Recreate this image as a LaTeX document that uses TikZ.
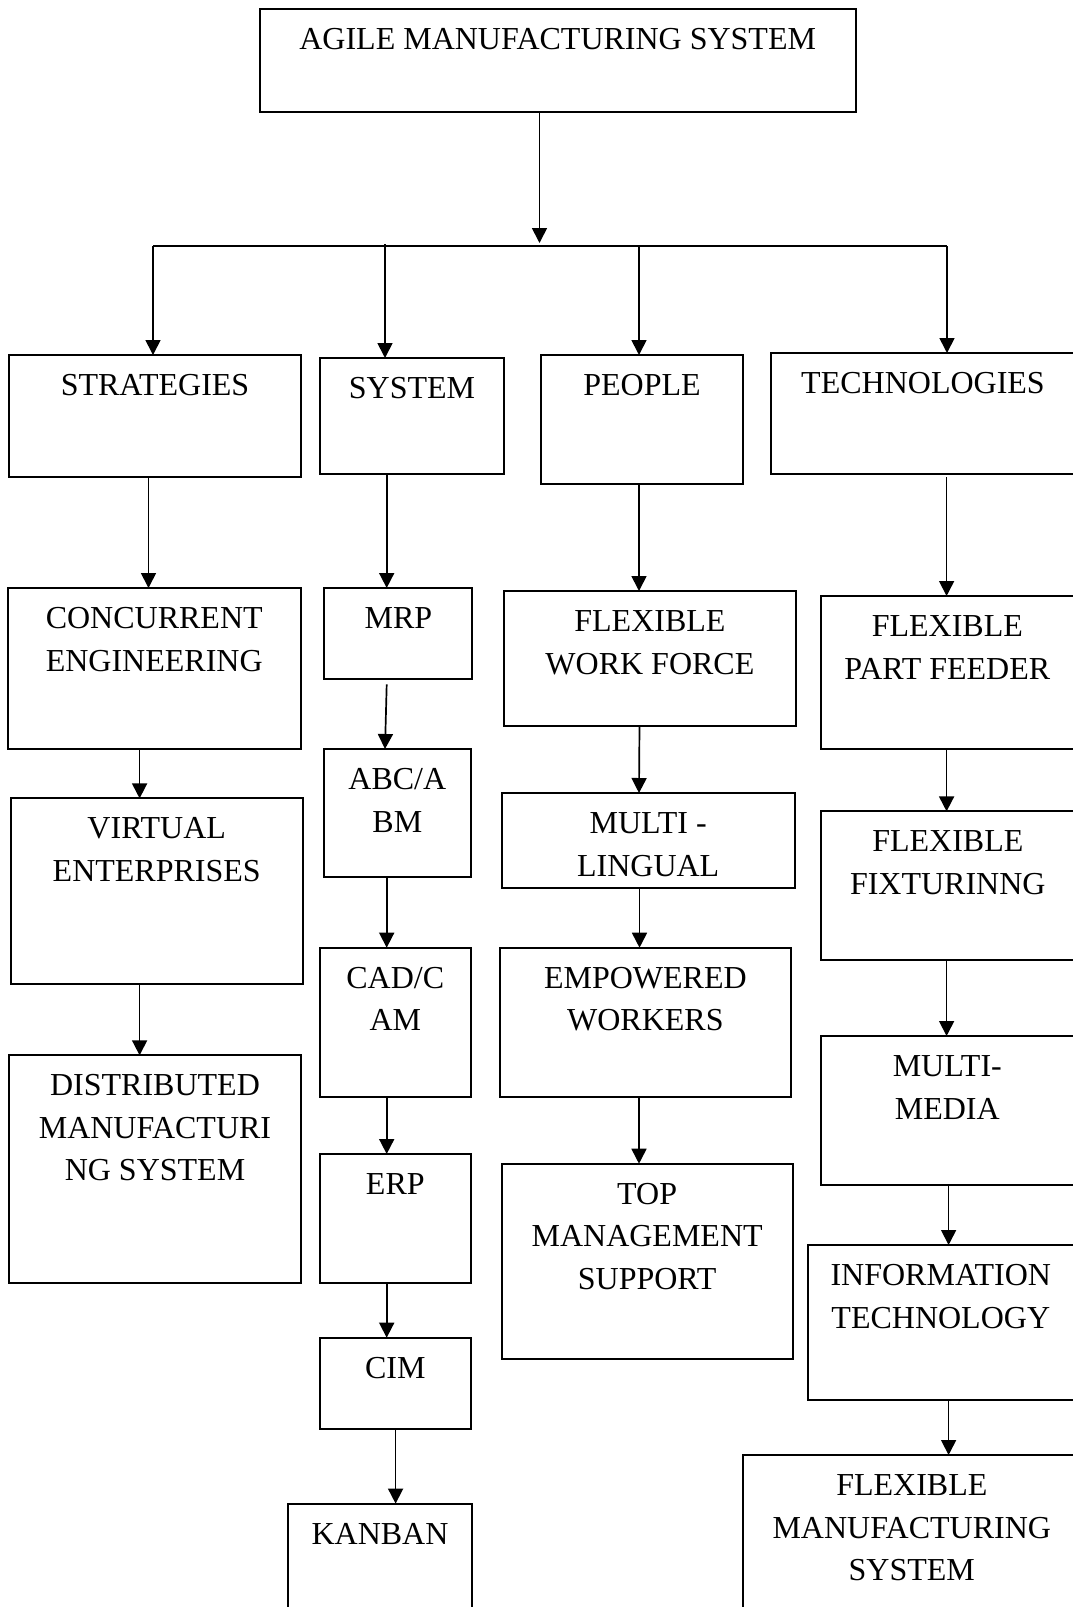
\documentclass[tikz,border=0pt]{standalone}
\usepackage{fontspec}
\setmainfont{Liberation Serif}
\usetikzlibrary{arrows.meta,calc}

% A framed box whose text sits at the top, centred, one line per \\.
% #1 name, (#2,#3) top-left corner, (#4,#5) bottom-right corner, #6 text
\newcommand\flowbox[6]{%
  \node[boxst, anchor=north west] (#1) at (#2,#3)
    {\parbox[t][\dimexpr #5pt-#3pt\relax][t]{\dimexpr #4pt-#2pt\relax}%
      {\centering\rule{0pt}{40.5pt}#6}};}

\begin{document}
\begin{tikzpicture}[x=1pt, y=-1pt,
  boxst/.style={draw=black, line width=2pt, inner sep=0pt, outer sep=0pt,
    font=\fontsize{32}{42.5}\selectfont},
  arr/.style={draw=black, line width=1.7pt,
    -{Triangle[length=15pt, width=15pt]}},
  barline/.style={draw=black, line width=2.2pt}]

\useasboundingbox (0,0) rectangle (1073,1607);
\clip (0,0) rectangle (1073,1607);

% root
\flowbox{root}{260}{9}{855.5}{111.7}{AGILE MANUFACTURING SYSTEM}

% first level
\flowbox{strat}{9}{355}{301}{477}{STRATEGIES}
\flowbox{sys}{320}{358}{504}{474}{SYSTEM}
\flowbox{peop}{541}{355}{743}{484}{PEOPLE}
\flowbox{tech}{771}{353}{1075}{474}{TECHNOLOGIES}

% strategies column
\flowbox{conc}{7.5}{588}{301}{749.4}{CONCURRENT\\ENGINEERING}
\flowbox{virt}{11}{798.4}{302.5}{984.4}{VIRTUAL\\ENTERPRISES}
\flowbox{dist}{9}{1055.3}{301}{1282.7}{DISTRIBUTED\\MANUFACTURI\\NG SYSTEM}

% system column
\flowbox{mrp}{324.4}{588}{472.3}{679.4}{MRP}
\flowbox{abc}{323.7}{749}{471}{877.2}{ABC/A\\BM}
\flowbox{cad}{319.6}{947.7}{471}{1096.5}{CAD/C\\AM}
\flowbox{erp}{319.6}{1154}{471}{1282.7}{ERP}
\flowbox{cim}{319.6}{1337.7}{471}{1429.4}{CIM}
\flowbox{kan}{288}{1503.6}{472}{1612}{KANBAN}

% people column
\flowbox{fwf}{503.8}{591}{796}{725.7}{FLEXIBLE\\WORK FORCE}
\flowbox{ml}{501.7}{793}{794.7}{888}{MULTI -\\LINGUAL}
\flowbox{emp}{499.7}{947.7}{791}{1096.5}{EMPOWERED\\WORKERS}
\flowbox{tmg}{501.7}{1163.7}{792.6}{1359}{TOP\\MANAGEMENT\\SUPPORT}

% technologies column
\flowbox{fpf}{820.6}{596}{1074}{749.4}{FLEXIBLE\\PART FEEDER}
\flowbox{ff}{820.6}{811.4}{1075}{960.3}{FLEXIBLE\\FIXTURINNG}
\flowbox{mm}{820.6}{1036}{1074}{1185}{MULTI-\\MEDIA}
\flowbox{it}{807.6}{1245}{1074}{1400}{INFORMATION\\TECHNOLOGY}
\flowbox{fms}{742.6}{1455}{1081}{1612}{FLEXIBLE\\MANUFACTURING\\SYSTEM}

% vertical guide lines of the connectors
\coordinate (xroot) at (539.5,0);
\coordinate (xs1) at (153,0);
\coordinate (xs2) at (148.5,0);
\coordinate (xs3) at (139.6,0);
\coordinate (xy1) at (385,0);
\coordinate (xy2) at (386.7,0);
\coordinate (xy3) at (395.6,0);
\coordinate (xp1) at (639,0);
\coordinate (xp2) at (639.5,0);
\coordinate (xt1) at (947,0);
\coordinate (xt2) at (946.6,0);
\coordinate (xt3) at (948.6,0);

% distribution bar
\coordinate (bar) at (0,246);
\coordinate (barl) at (bar -| xs1);
\coordinate (barr) at (bar -| xt1);
\coordinate (barm) at (bar -| xroot);

\draw[arr] (root.south -| xroot) -- ([yshift=3pt]barm);
\draw[barline] (barl) -- (barr);
\draw[arr] (barl) -- (strat.north -| xs1);
\draw[arr] ([yshift=2pt]bar -| xy1) -- (sys.north -| xy1);
\draw[arr] (bar -| xp1) -- (peop.north -| xp1);
\draw[arr] (barr) -- (tech.north -| xt1);

% strategies chain
\draw[arr] (strat.south -| xs2) -- (conc.north -| xs2);
\draw[arr] (conc.south -| xs3) -- (virt.north -| xs3);
\draw[arr] (virt.south -| xs3) -- (dist.north -| xs3);

% system chain
\draw[arr] (sys.south -| xy2) -- (mrp.north -| xy2);
\draw[arr] ([yshift=-5pt]mrp.south -| xy2) -- (abc.north -| xy1);
\draw[arr] (abc.south -| xy2) -- (cad.north -| xy2);
\draw[arr] (cad.south -| xy2) -- (erp.north -| xy2);
\draw[arr] (erp.south -| xy2) -- (cim.north -| xy2);
\draw[arr] (cim.south -| xy3) -- (kan.north -| xy3);

% people chain
\draw[arr] (peop.south -| xp1) -- (fwf.north -| xp1);
\draw[arr] (fwf.south -| xp2) -- (ml.north -| xp1);
\draw[arr] (ml.south -| xp2) -- (emp.north -| xp2);
\draw[arr] (emp.south -| xp1) -- (tmg.north -| xp1);

% technologies chain
\draw[arr] ([yshift=-3pt]tech.south -| xt2) -- (fpf.north -| xt2);
\draw[arr] (fpf.south -| xt2) -- (ff.north -| xt2);
\draw[arr] (ff.south -| xt2) -- (mm.north -| xt2);
\draw[arr] (mm.south -| xt3) -- (it.north -| xt3);
\draw[arr] (it.south -| xt3) -- (fms.north -| xt3);
\end{tikzpicture}
\end{document}
